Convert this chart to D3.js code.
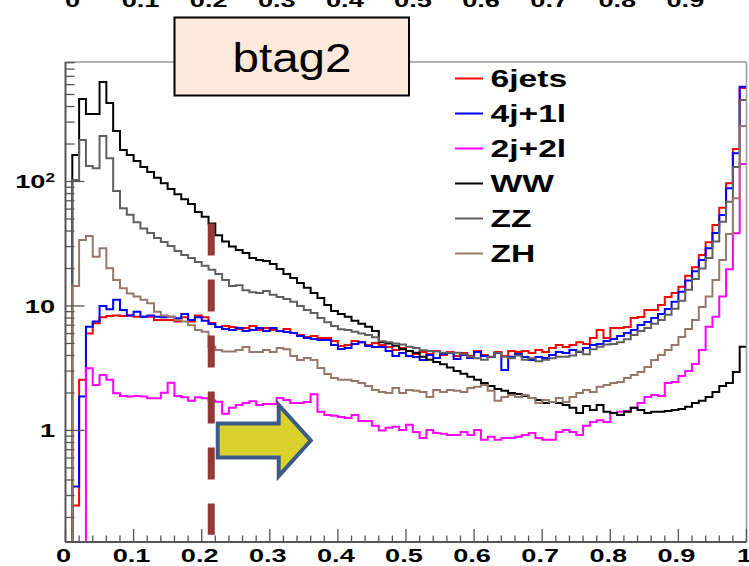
<!DOCTYPE html>
<html>
<head>
<meta charset="utf-8">
<script src="https://cdn.jsdelivr.net/npm/d3@7"></script>
<style>
  html, body { margin: 0; padding: 0; background: #fff; overflow: hidden; }
  text { font-family: "Liberation Sans", Arial, Helvetica, sans-serif; }
</style>
</head>
<body>
<svg id="chart" width="749" height="566"></svg>
<script>
// ---- b-tag (second highest) discriminant, 100 bins on [0,1] ----
const binCount = 100;

const seriesNames  = ["6jets", "4j+1l", "2j+2l", "WW", "ZZ", "ZH"];
const seriesColors = ["#ff0000", "#0000ff", "#ff00ff", "#000000", "#5f5f5f", "#977868"];

const jets6 = [0, 0.25, 2.55, 6.0, 7.25, 8.1, 8.3, 8.4, 8.3, 8.4,
  8.2, 8.2, 8.2, 7.7, 7.7, 7.7, 7.5, 8.1, 7.5, 8.4,
  8.1, 7.3, 6.78, 6.9, 6.78, 6.53, 6.65, 6.9, 6.41, 6.65,
  6.41, 6.3, 6.53, 6.07, 5.85, 5.64, 5.75, 5.53, 5.53, 5.23,
  4.77, 4.86, 5.23, 5.12, 4.86, 5.03, 4.86, 4.69, 4.43, 4.6,
  4.35, 4.11, 4.27, 4.11, 4.35, 4.04, 4.27, 3.97, 4.19, 3.97,
  4.35, 4.04, 3.89, 4.27, 3.97, 4.35, 4.27, 4.35, 4.19, 4.43,
  4.27, 4.6, 4.86, 4.69, 4.86, 5.12, 4.95, 5.53, 6.41, 5.53,
  6.65, 6.65, 6.78, 8.0, 8.16, 9.29, 9.29, 10.2, 11.8, 12.7,
  14.3, 17.5, 20.5, 25.7, 32.5, 44.7, 61.6, 96.8, 182, 563];

const j4l1 = [0, 0.354, 1.87, 6.8, 7.5, 10, 9.4, 11.2, 9.3, 8.4,
  9.0, 8.2, 8.4, 8.2, 8.1, 8.2, 7.96, 8.6, 7.7, 8.1,
  7.6, 7.16, 6.78, 6.53, 6.41, 6.65, 6.3, 6.41, 6.65, 6.3,
  6.65, 6.3, 6.18, 6.07, 5.74, 5.53, 5.43, 5.33, 5.33, 4.86,
  4.52, 4.6, 4.95, 5.12, 4.77, 4.69, 4.69, 4.35, 3.97, 4.19,
  3.97, 3.89, 3.68, 4.04, 3.82, 4.11, 4.19, 3.75, 4.04, 3.82,
  4.27, 3.97, 3.89, 4.19, 3.06, 3.9, 4.11, 3.89, 3.68, 3.89,
  3.82, 4.04, 4.27, 4.19, 4.43, 4.27, 4.6, 4.86, 4.95, 5.23,
  5.43, 5.74, 6.07, 6.41, 7.04, 7.43, 8.0, 8.62, 9.46, 10.8,
  13, 16, 19, 23.4, 29.1, 38.6, 53.8, 88.2, 169, 577];

const j2l2 = [0, 0, 0, 3.16, 2.32, 2.79, 2.55, 1.99, 1.89, 1.87,
  1.89, 1.87, 1.81, 1.81, 2.01, 2.42, 1.89, 1.85, 1.73, 1.85,
  1.81, 1.74, 1.70, 1.36, 1.52, 1.60, 1.66, 1.72, 1.60, 1.63,
  1.63, 1.82, 1.76, 1.66, 1.66, 1.69, 1.95, 1.41, 1.33, 1.31,
  1.28, 1.26, 1.33, 1.19, 1.19, 1.09, 1.0, 1.05, 1.07, 1.01,
  1.11, 0.97, 0.87, 1.01, 0.955, 0.94, 0.92, 0.92, 0.97, 0.92,
  1.01, 0.84, 0.89, 0.84, 0.87, 0.87, 0.89, 0.92, 0.955, 0.87,
  0.84, 0.84, 0.97, 1.01, 0.97, 0.92, 1.09, 1.17, 1.21, 1.17,
  1.38, 1.41, 1.43, 1.52, 1.66, 1.86, 1.93, 1.89, 2.41, 2.45,
  2.74, 3.0, 3.42, 4.43, 6.8, 8.2, 11.9, 19.7, 38.4, 138];

const ww = [0, 163, 460, 348, 348, 630, 427, 255, 179, 163,
  146, 131, 119, 107, 97, 87, 79, 72, 66, 57,
  52, 46, 37, 33, 30, 28.2, 26.7, 24.3, 23.4, 23,
  21.7, 19.8, 18.1, 16.8, 15.3, 14, 12.7, 11.6, 10.2, 9.1,
  8.6, 8.2, 7.6, 7.2, 6.8, 6.3, 5.1, 5.0, 4.8, 4.5,
  4.35, 4.2, 3.9, 3.7, 3.55, 3.4, 3.2, 3.0, 2.85, 2.7,
  2.55, 2.4, 2.28, 2.15, 2.08, 2.0, 1.96, 1.89, 1.82, 1.76,
  1.66, 1.69, 1.66, 1.60, 1.52, 1.38, 1.57, 1.46, 1.60, 1.41,
  1.38, 1.33, 1.41, 1.52, 1.46, 1.38, 1.41, 1.41, 1.43, 1.46,
  1.49, 1.55, 1.66, 1.73, 1.86, 2.04, 2.28, 2.4, 2.95, 4.7];

const zz = [0, 103, 215, 133, 128, 232, 154, 84, 61, 54,
  47, 42, 38.6, 35.2, 32.7, 30.3, 27.7, 25.7, 24.3, 22.6,
  21, 19.5, 18.1, 16.2, 14.5, 14.7, 13.4, 12.9, 12.7, 13.2,
  12.3, 11.8, 11.4, 10.8, 10, 9.3, 8.8, 8.0, 7.4, 6.9,
  6.5, 6.4, 6.2, 6.0, 5.85, 5.6, 5.2, 5.1, 5.0, 4.9,
  4.7, 4.6, 4.4, 4.35, 4.3, 4.2, 4.2, 4.2, 4.1, 3.9,
  3.8, 3.7, 3.9, 4.2, 3.9, 3.8, 4.0, 3.7, 3.8, 3.6,
  3.7, 3.8, 3.9, 3.9, 4.0, 4.3, 4.1, 4.5, 4.7, 4.9,
  4.95, 5.1, 5.4, 5.85, 6.3, 6.65, 7.2, 7.7, 8.5, 9.5,
  11.0, 13.5, 16.5, 20, 24.3, 32.9, 47.6, 68.8, 131, 452];

const zh = [0, 14.5, 33.9, 36.5, 24.9, 29.1, 20.1, 16.2, 13.9, 12.6,
  11.9, 11.2, 10.5, 9.0, 8.4, 8.2, 7.7, 7.5, 7.0, 6.4,
  6.2, 4.7, 4.43, 4.3, 4.3, 4.43, 4.69, 4.27, 4.27, 4.43,
  4.27, 4.6, 4.5, 3.97, 3.68, 3.82, 3.68, 3.18, 2.84, 2.64,
  2.55, 2.55, 2.5, 2.41, 2.28, 2.11, 2.04, 2.0, 2.19, 2.0,
  2.11, 2.08, 2.04, 1.86, 2.11, 2.04, 2.11, 2.08, 2.04, 2.19,
  2.24, 2.32, 2.08, 1.73, 1.86, 1.93, 1.86, 1.93, 1.82, 1.66,
  1.76, 1.69, 1.82, 1.69, 1.86, 2.0, 2.11, 2.04, 2.24, 2.32,
  2.41, 2.45, 2.64, 2.79, 2.95, 3.24, 3.68, 4.04, 4.43, 4.86,
  5.64, 6.53, 7.7, 9.8, 11.9, 16.2, 23.4, 37.9, 73.3, 279];

const seriesValues = [jets6, j4l1, j2l2, ww, zz, zh];

// axis ticks and labels
const xTickValues  = [0, 0.1, 0.2, 0.3, 0.4, 0.5, 0.6, 0.7, 0.8, 0.9, 1];
const xTickLabels  = ["0", "0.1", "0.2", "0.3", "0.4", "0.5", "0.6", "0.7", "0.8", "0.9", "1"];
const yTickValues  = [1, 10, 100];
const yTickLabels  = ["1", "10", "10^2"];
// labels of the neighbouring panel above, only partly inside the page
const upperTickValues = [0, 0.1, 0.2, 0.3, 0.4, 0.5, 0.6, 0.7, 0.8, 0.9];
const upperTickLabels = ["0", "0.1", "0.2", "0.3", "0.4", "0.5", "0.6", "0.7", "0.8", "0.9"];

const panelTitle = "btag2";
const cutValue = 0.214;          // selection cut on the discriminant
const cutLineRange = [0.145, 46]; // vertical extent of the cut marker (y units)

// ---- layout ----
const frame = { left: 65.5, right: 746.5, top: 62, bottom: 542 };
const yMin = 0.127, yMax = 912;
const stretch = 1.43;  // labels are drawn horizontally widened

const svg = d3.select("#chart");

const x = d3.scaleLinear().domain([0, 1]).range([frame.left, frame.right]);
const y = d3.scaleLog().domain([yMin, yMax]).range([frame.bottom, frame.top]);

// widened text helper
function wideText(parent, px, py, str, opts) {
  const g = parent.append("g")
    .attr("transform", `translate(${px},${py}) scale(${opts.sx || stretch},1)`);
  const t = g.append("text")
    .attr("x", 0).attr("y", 0)
    .attr("text-anchor", opts.anchor || "start")
    .attr("font-size", opts.size)
    .attr("font-weight", opts.weight || "bold")
    .attr("fill", opts.fill || "#000");
  return t.text(str);
}

// ---- histograms ----
svg.append("defs").append("clipPath").attr("id", "plotClip")
  .append("rect")
  .attr("x", frame.left).attr("y", frame.top - 1)
  .attr("width", frame.right - frame.left + 1)
  .attr("height", frame.bottom - frame.top + 3);

const stepLine = d3.line()
  .x(d => x(d[0]))
  .y(d => d[1] > yMin ? y(d[1]) : y(yMin))
  .curve(d3.curveStepAfter);

const histLayer = svg.append("g").attr("clip-path", "url(#plotClip)");
seriesValues.forEach((vals, k) => {
  const pts = vals.map((v, i) => [i / binCount, v]);
  pts.push([1, vals[vals.length - 1]]);
  histLayer.append("path")
    .attr("d", stepLine(pts))
    .attr("fill", "none")
    .attr("stroke", seriesColors[k])
    .attr("stroke-width", 2)
    .attr("stroke-linejoin", "miter");
});

// ---- frame and axes ----
const axisColor = "#555";
svg.append("line")
  .attr("x1", frame.left).attr("x2", frame.right)
  .attr("y1", frame.top).attr("y2", frame.top)
  .attr("stroke", "#999").attr("stroke-width", 1.5);
svg.append("line")
  .attr("x1", frame.right).attr("x2", frame.right)
  .attr("y1", frame.top).attr("y2", frame.bottom)
  .attr("stroke", "#999").attr("stroke-width", 1.5);
svg.append("line")
  .attr("x1", frame.left).attr("x2", frame.left)
  .attr("y1", frame.top).attr("y2", frame.bottom)
  .attr("stroke", axisColor).attr("stroke-width", 2);
svg.append("line")
  .attr("x1", frame.left).attr("x2", frame.right)
  .attr("y1", frame.bottom).attr("y2", frame.bottom)
  .attr("stroke", axisColor).attr("stroke-width", 2);

// x ticks: majors every 0.1, minors every 0.02
const xMinor = d3.range(0, 50).map(i => i / 50).filter(v => Math.round(v * 50) % 5 !== 0);
const xTickG = svg.append("g");
xTickValues.forEach(v => {
  xTickG.append("line")
    .attr("x1", x(v)).attr("x2", x(v))
    .attr("y1", frame.bottom).attr("y2", frame.bottom - 13)
    .attr("stroke", axisColor).attr("stroke-width", 1.3);
});
xMinor.forEach(v => {
  xTickG.append("line")
    .attr("x1", x(v)).attr("x2", x(v))
    .attr("y1", frame.bottom).attr("y2", frame.bottom - 6.5)
    .attr("stroke", axisColor).attr("stroke-width", 1.3);
});
xTickValues.forEach((v, i) => {
  wideText(svg, x(v) - 2, 561.5, xTickLabels[i], { size: 19, anchor: "middle" });
});

// y ticks: log decades with 2..9 minors
const yTickG = svg.append("g");
const yMinor = [];
[-1, 0, 1, 2].forEach(e => {
  for (let k = 2; k <= 9; k++) {
    const v = k * Math.pow(10, e);
    if (v > yMin && v < yMax) yMinor.push(v);
  }
});
yTickValues.forEach(v => {
  yTickG.append("line")
    .attr("x1", frame.left).attr("x2", frame.left + 19)
    .attr("y1", y(v)).attr("y2", y(v))
    .attr("stroke", axisColor).attr("stroke-width", 1.3);
});
yMinor.forEach(v => {
  yTickG.append("line")
    .attr("x1", frame.left).attr("x2", frame.left + 9)
    .attr("y1", y(v)).attr("y2", y(v))
    .attr("stroke", axisColor).attr("stroke-width", 1.3);
});
yTickValues.forEach((v, i) => {
  const parts = yTickLabels[i].split("^");
  const t = wideText(svg, 55, y(v) + 7, parts[0], { size: 19, anchor: "end" });
  if (parts[1]) {
    t.append("tspan").attr("dy", -7).attr("font-size", 12).text(parts[1]);
  }
});

// partly visible labels of the panel above
upperTickValues.forEach((v, i) => {
  wideText(svg, x(v) + 7, 7, upperTickLabels[i], { size: 19, anchor: "middle" });
});

// ---- legend ----
const legend = svg.append("g");
seriesNames.forEach((name, i) => {
  const cy = 78.5 + i * 35;
  legend.append("line")
    .attr("x1", 455).attr("x2", 483)
    .attr("y1", cy).attr("y2", cy)
    .attr("stroke", seriesColors[i]).attr("stroke-width", 2);
  wideText(legend, 490.5, cy + 8.5, name, { size: 23.5 });
});

// ---- cut marker and arrow ----
svg.append("line")
  .attr("x1", x(cutValue)).attr("x2", x(cutValue))
  .attr("y1", y(cutLineRange[1])).attr("y2", y(cutLineRange[0]))
  .attr("stroke", "#953735").attr("stroke-width", 7)
  .attr("stroke-dasharray", "32,24");

const ax0 = x(cutValue) + 6.5, ay = 440.5;
const arrowPts = [
  [ax0, ay - 17], [ax0 + 61, ay - 17], [ax0 + 61, ay - 35.5],
  [ax0 + 93, ay], [ax0 + 61, ay + 35.5], [ax0 + 61, ay + 17], [ax0, ay + 17]
];
svg.append("path")
  .attr("d", d3.line()(arrowPts) + "Z")
  .attr("fill", "#dbd12c")
  .attr("stroke", "#3b5b85").attr("stroke-width", 4)
  .attr("stroke-linejoin", "miter");

// ---- title box ----
svg.append("rect")
  .attr("x", 174.5).attr("y", 17.5).attr("width", 234.5).attr("height", 78)
  .attr("fill", "#fde9db").attr("stroke", "#000").attr("stroke-width", 2);
svg.append("text")
  .attr("x", 292).attr("y", 71.5)
  .attr("text-anchor", "middle")
  .attr("font-family", "Lato, 'Open Sans', sans-serif")
  .attr("font-size", 41)
  .attr("textLength", 119).attr("lengthAdjust", "spacingAndGlyphs")
  .attr("fill", "#000")
  .text(panelTitle);
</script>
</body>
</html>
